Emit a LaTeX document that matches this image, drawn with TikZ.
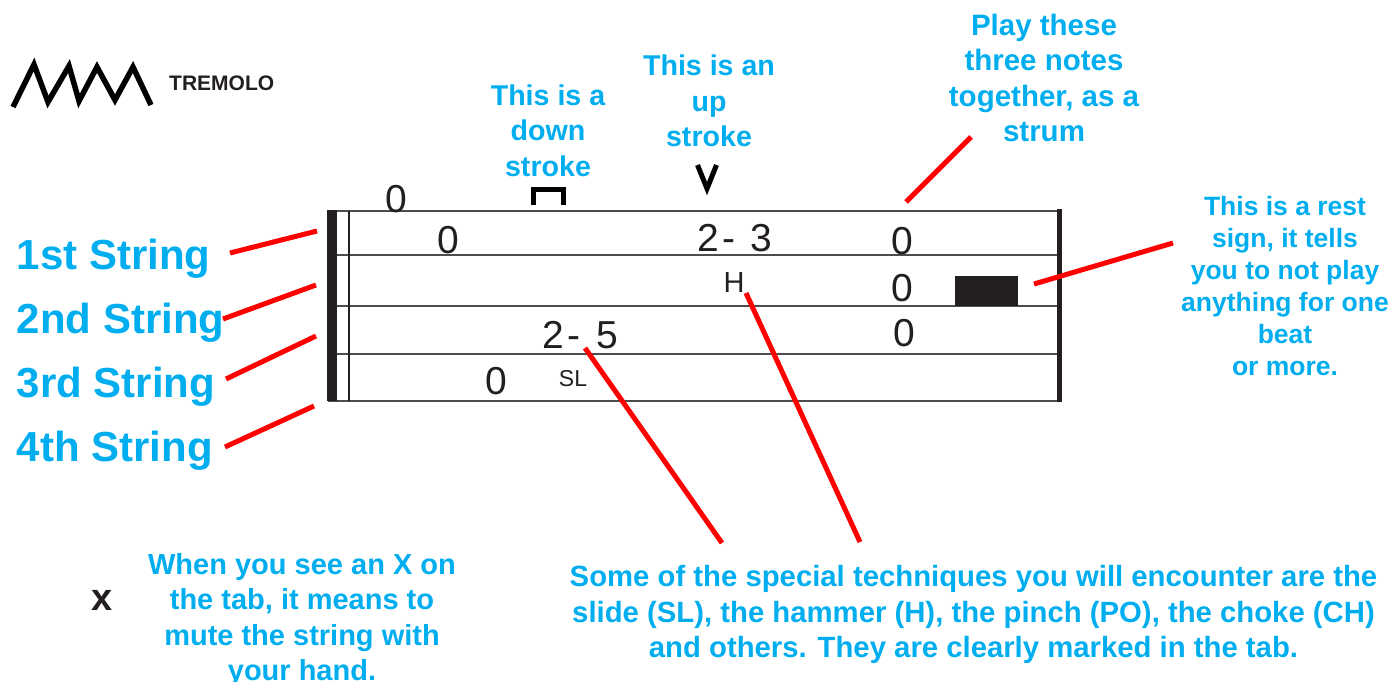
\documentclass[tikz,border=0pt]{standalone}
\usepackage{fontspec}
\setmainfont{Liberation Sans}
\definecolor{tabblue}{HTML}{00AEEF}
\definecolor{tabink}{HTML}{231F20}
\tikzset{
    helptext/.style={text=tabblue, font=\bfseries\fontsize{28.6}{35.4}\selectfont, align=center, inner sep=0pt},
    stringname/.style={text=tabblue, font=\bfseries\fontsize{42}{50}\selectfont, anchor=west, inner sep=0pt},
    fret/.style={text=tabink, font=\fontsize{39}{45}\selectfont, inner sep=0pt},
    pointer/.style={draw=red, line width=5pt},
    tabline/.style={draw=tabink!80, line width=1.2pt},
}
\newcommand{\slur}[2]{#1\kern3pt-\kern5pt\ #2}

\begin{document}
\begin{tikzpicture}[x=1pt, y=-1pt]
    \useasboundingbox (0,0) rectangle (1392,682);

    \foreach \name/\ypos in {one/211, two/255, three/306, four/354, five/401} {
        \coordinate (\name l) at (328,\ypos);
        \coordinate (\name r) at (1060,\ypos);
        \draw[tabline] (\name l) -- (\name r);
    }
    \fill[tabink] (327,210) rectangle (337,401);
    \draw[tabink, line width=2pt] (349,211) -- (349,401);
    \draw[tabink, line width=5pt] (1059.5,209) -- (1059.5,402);
    \node[fill=tabink, minimum width=63pt, minimum height=30pt, inner sep=0pt] (rest) at (986.5,291) {};

    \draw[black, line width=5.5pt, miter limit=10] (13,107) -- (34,64.5) -- (48,102) -- (69,66) -- (79,101) -- (97,67) -- (115,100) -- (133,67) -- (151,105);
    \node[text=tabink, font=\bfseries\fontsize{21}{25}\selectfont, anchor=west, inner sep=0pt] (tremolo) at (169,83) {TREMOLO};

    \draw[black, line width=5pt] (533.5,205) -- (533.5,189.5) -- (563.5,189.5) -- (563.5,205);
    \draw[black, line width=5pt] (697.5,165) -- (707,188.6) -- (716.5,165);

    \node[fret] (open1) at (396,199) {0};
    \node[fret] (open2) at (448,240) {0};
    \node[fret] (open3) at (496,381) {0};
    \node[fret] (strum1) at (902,241) {0};
    \node[fret] (strum2) at (902,288) {0};
    \node[fret] (strum3) at (904,333) {0};
    \node[fret] (slide) at (580.5,335.5) {\slur{2}{5}};
    \node[fret] (hammer) at (735,238) {\slur{2}{3}};
    \node[text=tabink, font=\fontsize{23}{27}\selectfont, inner sep=0pt] (sl) at (573,379) {SL};
    \node[text=tabink, font=\fontsize{29}{33}\selectfont, inner sep=0pt] (h) at (734,283) {H};

    \node[stringname] (str1) at (16.5,259) {1st String};
    \node[stringname] (str2) at (16.5,323) {2nd String};
    \node[stringname] (str3) at (16.5,387) {3rd String};
    \node[stringname] (str4) at (16.5,451) {4th String};

    \node[helptext] (down) at (548,130.5) {This is a\\down\\stroke};
    \node[helptext] (up) at (709,101) {This is an\\up\\stroke};
    \node[helptext, font=\bfseries\fontsize{29.5}{35.2}\selectfont] (together) at (1044,78) {Play these\\three notes\\together, as a\\strum};
    \node[helptext, font=\bfseries\fontsize{26.5}{32}\selectfont] (resttext) at (1285,286) {This is a rest\\sign, it tells\\you to not play\\anything for one\\beat\\or more.};
    \node[helptext, font=\bfseries\fontsize{29}{35.4}\selectfont] (mute) at (302,620) {When you see an X on\\the tab, it means to\\mute the string with\\your hand.};
    \node[helptext, font=\bfseries\fontsize{29.3}{35.2}\selectfont] (special) at (973.5,614.5) {Some of the special techniques you will encounter are the\\slide (SL), the hammer (H), the pinch (PO), the choke (CH)\\and others. They are clearly marked in the tab.};
    \node[text=tabink, font=\bfseries\fontsize{38}{42}\selectfont, inner sep=0pt] (mutex) at (102.5,600) {x};

    \coordinate (p1a) at (230,253);
    \coordinate (p1b) at (317,231);
    \coordinate (p2a) at (223,319);
    \coordinate (p2b) at (316,285);
    \coordinate (p3a) at (226,379);
    \coordinate (p3b) at (316,336);
    \coordinate (p4a) at (225,447);
    \coordinate (p4b) at (314,406);
    \coordinate (p5a) at (971,137);
    \coordinate (p5b) at (906,202);
    \coordinate (p6a) at (1173,243);
    \coordinate (p6b) at (1034,284);
    \coordinate (p7a) at (860,542);
    \coordinate (p7b) at (746,293);
    \coordinate (p8a) at (722,543);
    \coordinate (p8b) at (585,348);
    \foreach \i in {1,...,8} {
        \draw[pointer] (p\i a) -- (p\i b);
    }
\end{tikzpicture}
\end{document}
